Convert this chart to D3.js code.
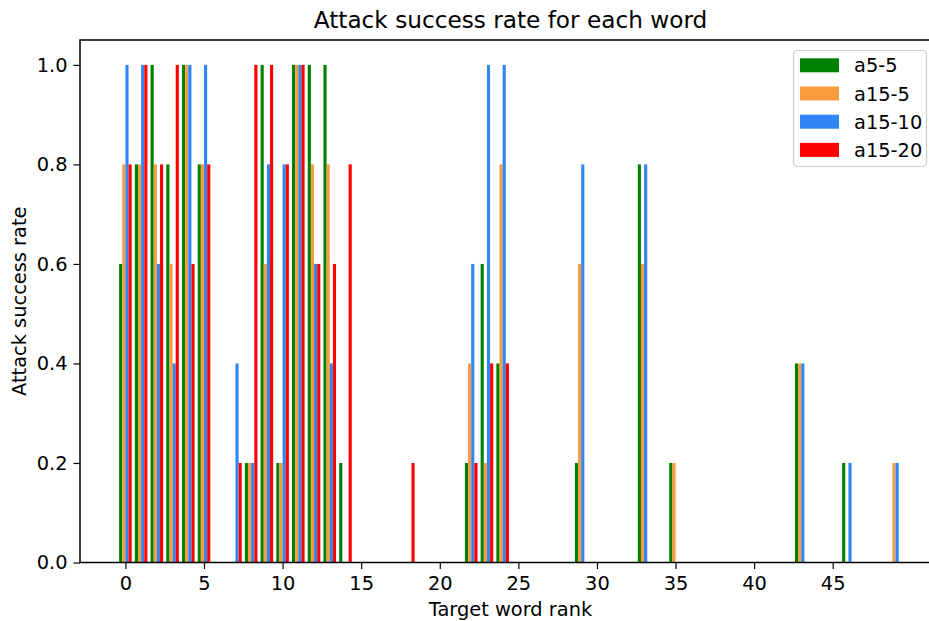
<!DOCTYPE html>
<html>
<head>
<meta charset="utf-8">
<script src="https://cdn.jsdelivr.net/npm/d3@7"></script>
<style>
  body { margin: 0; background: #fff; }
  text { font-family: "DejaVu Sans", sans-serif; fill: #000; }
</style>
</head>
<body>
<div id="chart"></div>
<script>
// word ranks 0..49
const ranks = d3.range(50);
const seriesNames = ["a5-5", "a15-5", "a15-10", "a15-20"];
const seriesColors = ["#008000", "#f99c3e", "#2f87f6", "#ff0000"];

const a5_5 = [0.6,0.8,1.0,0.8,1.0,0.8,0,0,0.2,1.0, 0.2,1.0,1.0,1.0,0.2,0,0,0,0,0, 0,0,0.2,0.6,0.4,0,0,0,0,0.2, 0,0,0,0.8,0,0.2,0,0,0,0, 0,0,0,0.4,0,0,0.2,0,0,0];
const a15_5 = [0.8,0.8,0.8,0.6,1.0,0.8,0,0,0.2,0.6, 0.2,1.0,0.8,0.8,0,0,0,0,0,0, 0,0,0.4,0.2,0.8,0,0,0,0,0.6, 0,0,0,0.6,0,0.2,0,0,0,0, 0,0,0,0.4,0,0,0,0,0,0.2];
const a15_10 = [1.0,1.0,0.6,0.4,1.0,1.0,0,0.4,0.2,0.8, 0.8,1.0,0.6,0.4,0,0,0,0,0,0, 0,0,0.6,1.0,1.0,0,0,0,0,0.8, 0,0,0,0.8,0,0,0,0,0,0, 0,0,0,0.4,0,0,0.2,0,0,0.2];
const a15_20 = [0.8,1.0,0.8,1.0,0.6,0.8,0,0.2,1.0,1.0, 0.8,1.0,0.6,0.6,0.8,0,0,0,0.2,0, 0,0,0.2,0.4,0.4,0,0,0,0,0, 0,0,0,0,0,0,0,0,0,0, 0,0,0,0,0,0,0,0,0,0];

const xTicks = [0, 5, 10, 15, 20, 25, 30, 35, 40, 45];
const yTicks = [0, 0.2, 0.4, 0.6, 0.8, 1.0];

const allSeries = [a5_5, a15_5, a15_10, a15_20];
const barW = 0.2;
const fs = "19.4px";

const W = 929, H = 621;
const svg = d3.select("#chart").append("svg")
    .attr("width", W)
    .attr("height", H);

const x = d3.scaleLinear().domain([-2.89, 51.89]).range([80, 941]);
const y = d3.scaleLinear().domain([0, 1.05]).range([562.5, 40]);

// bars, one group per series
allSeries.forEach((vals, i) => {
    const off = (i - 1.5) * barW;
    svg.append("g")
        .attr("fill", seriesColors[i])
        .selectAll("rect")
        .data(ranks.filter(r => vals[r] > 0))
        .join("rect")
        .attr("x", r => x(r + off - barW / 2))
        .attr("width", r => x(r + off + barW / 2) - x(r + off - barW / 2))
        .attr("y", r => y(vals[r]))
        .attr("height", r => y(0) - y(vals[r]));
});

// axes
const xAxis = svg.append("g")
    .attr("transform", `translate(0,${y(0)})`)
    .call(d3.axisBottom(x).tickValues(xTicks).tickFormat(d3.format("d")).tickSize(6.5).tickPadding(7).tickSizeOuter(0));
const yAxis = svg.append("g")
    .attr("transform", `translate(${x.range()[0]},0)`)
    .call(d3.axisLeft(y).tickValues(yTicks).tickFormat(d3.format(".1f")).tickSize(6.5).tickPadding(6).tickSizeOuter(0));

[xAxis, yAxis].forEach(a => {
    a.select(".domain").remove();
    a.selectAll("line").attr("stroke", "#000").attr("stroke-width", 1.2);
    a.selectAll("text").style("font-family", "DejaVu Sans").style("font-size", fs);
});

// spines
svg.append("rect")
    .attr("x", x.range()[0])
    .attr("y", y(1.05))
    .attr("width", x.range()[1] - x.range()[0])
    .attr("height", y(0) - y(1.05))
    .attr("stroke", "#000")
    .attr("stroke-width", 1.5)
    .attr("fill", "none");

// titles
svg.append("text")
    .attr("x", (x.range()[0] + x.range()[1]) / 2)
    .attr("y", 28)
    .attr("text-anchor", "middle")
    .style("font-size", "23.2px")
    .text("Attack success rate for each word");

svg.append("text")
    .attr("x", (x.range()[0] + x.range()[1]) / 2)
    .attr("y", 616)
    .attr("text-anchor", "middle")
    .style("font-size", fs)
    .text("Target word rank");

svg.append("text")
    .attr("transform", `translate(26,${(y(0) + y(1.05)) / 2}) rotate(-90)`)
    .attr("text-anchor", "middle")
    .style("font-size", fs)
    .text("Attack success rate");

// legend
const legend = svg.append("g");
legend.append("rect")
    .attr("x", 793.5).attr("y", 50.5)
    .attr("width", 133).attr("height", 116)
    .attr("rx", 4)
    .attr("fill", "#fff").attr("fill-opacity", 0.8)
    .attr("stroke", "#ccc").attr("stroke-width", 1.2);

seriesNames.forEach((name, i) => {
    const cy = 65.3 + i * 28.2;
    legend.append("rect")
        .attr("x", 800).attr("y", cy - 7)
        .attr("width", 39).attr("height", 14)
        .attr("fill", seriesColors[i]);
    legend.append("text")
        .attr("x", 854).attr("y", cy + 7)
        .style("font-size", fs)
        .text(name);
});
</script>
</body>
</html>
